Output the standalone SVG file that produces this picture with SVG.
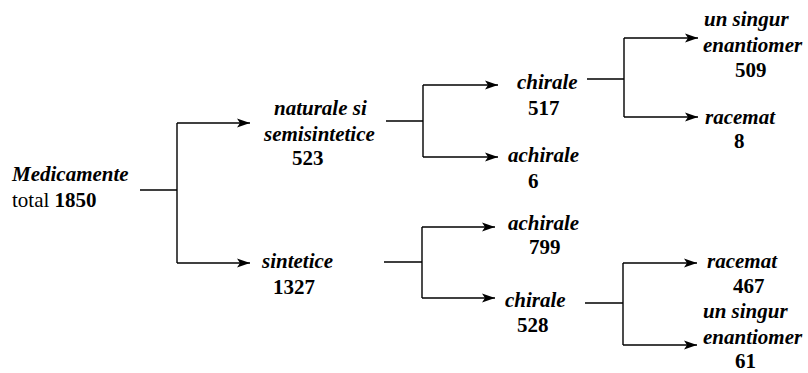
<svg xmlns="http://www.w3.org/2000/svg" width="808" height="373" viewBox="0 0 808 373">
  <style>
    text { font-family: "Liberation Serif", "Times New Roman", serif; font-size: 21px; fill: #000; }
    .bi { font-weight: bold; font-style: italic; }
    .b { font-weight: bold; }
    .ln { fill: none; stroke: #000; stroke-width: 1.4; }
    .ar { fill: none; stroke: #000; stroke-width: 1.4; marker-end: url(#ah); }
  </style>
  <defs>
    <marker id="ah" markerUnits="userSpaceOnUse" markerWidth="14" markerHeight="10" refX="13" refY="5" orient="auto">
      <path d="M0,0.5 L13,5 L0,9.5 L3,5 Z" fill="#000"/>
    </marker>
  </defs>
  <rect width="808" height="373" fill="#fff"/>

  <g id="connectors">
    <path class="ln" d="M140,190 H177 M177,123 V263"/>
    <path class="ar" d="M177,123 H250"/>
    <path class="ar" d="M177,263 H250"/>

    <path class="ln" d="M386,121 H423 M423,85 V157"/>
    <path class="ar" d="M423,85 H498"/>
    <path class="ar" d="M423,157 H498"/>

    <path class="ln" d="M384,262 H422 M422,227 V298"/>
    <path class="ar" d="M422,227 H495"/>
    <path class="ar" d="M422,298 H495"/>

    <path class="ln" d="M587,79 H624 M624,38 V117"/>
    <path class="ar" d="M624,38 H698"/>
    <path class="ar" d="M624,117 H698"/>

    <path class="ln" d="M585,303 H623 M623,263 V345"/>
    <path class="ar" d="M623,263 H697"/>
    <path class="ar" d="M623,345 H697"/>
  </g>

  <g id="medicamente">
    <text class="bi" x="12" y="181">Medicamente</text>
    <text x="12" y="207">total <tspan class="b">1850</tspan></text>
  </g>
  <g id="naturale">
    <text class="bi" x="274" y="115">naturale si</text>
    <text class="bi" x="264" y="141">semisintetice</text>
    <text class="b" x="292" y="165">523</text>
  </g>
  <g id="sintetice">
    <text class="bi" x="262" y="268">sintetice</text>
    <text class="b" x="273" y="294">1327</text>
  </g>
  <g id="chirale-nat">
    <text class="bi" x="517" y="89">chirale</text>
    <text class="b" x="528" y="115">517</text>
  </g>
  <g id="achirale-nat">
    <text class="bi" x="508" y="162">achirale</text>
    <text class="b" x="528" y="188">6</text>
  </g>
  <g id="achirale-sin">
    <text class="bi" x="508" y="230">achirale</text>
    <text class="b" x="529" y="254">799</text>
  </g>
  <g id="chirale-sin">
    <text class="bi" x="505" y="307">chirale</text>
    <text class="b" x="517" y="332">528</text>
  </g>
  <g id="enantiomer-nat">
    <text class="bi" x="704" y="26">un singur</text>
    <text class="bi" x="703" y="52">enantiomer</text>
    <text class="b" x="735" y="77">509</text>
  </g>
  <g id="racemat-nat">
    <text class="bi" x="705" y="124">racemat</text>
    <text class="b" x="734" y="148">8</text>
  </g>
  <g id="racemat-sin">
    <text class="bi" x="707" y="268">racemat</text>
    <text class="b" x="733" y="293">467</text>
  </g>
  <g id="enantiomer-sin">
    <text class="bi" x="703" y="318">un singur</text>
    <text class="bi" x="703" y="344">enantiomer</text>
    <text class="b" x="735" y="368">61</text>
  </g>
</svg>
